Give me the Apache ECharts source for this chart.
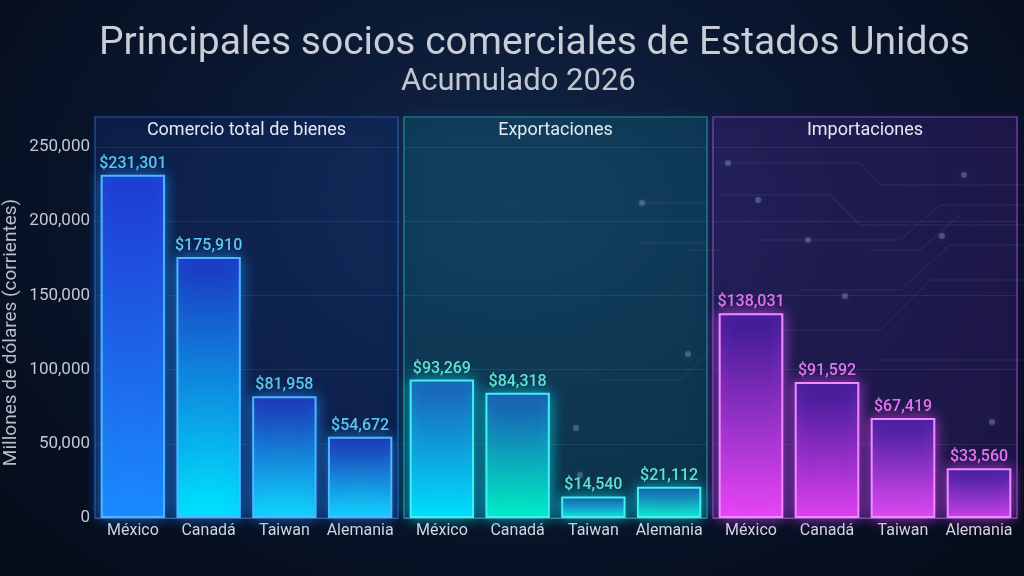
<!DOCTYPE html>
<html>
<head>
<meta charset="utf-8">
<title>Principales socios comerciales de Estados Unidos</title>
<script src="https://cdn.jsdelivr.net/npm/echarts@6/dist/echarts.min.js"></script>
<style>
  html, body { margin: 0; padding: 0; }
  #chart {
    width: 1024px; height: 576px;
    background: radial-gradient(ellipse at 50% 35%, #13274a 0%, #0a1730 45%, #050b17 100%);
  }
</style>
</head>
<body>
<div id="chart"></div>
<script>
// datos
const paises = ['México', 'Canadá', 'Taiwan', 'Alemania']
const comercioTotal = [231301, 175910, 81958, 54672]
const exportaciones = [93269, 84318, 14540, 21112]
const importaciones = [138031, 91592, 67419, 33560]
const ticksY = [0, 50000, 100000, 150000, 200000, 250000]
const paneles = ['Comercio total de bienes', 'Exportaciones', 'Importaciones']

const chart = echarts.init(document.getElementById('chart'))

// posiciones de los tres paneles
const lefts = [95, 404, 713]
const widths = [303, 303, 304]
const panelTop = 117
const zeroY = 518

// estilos por panel
const estilos = [
  {
    bg: 'rgba(18,45,105,0.30)', border: '#2a55a0', glow: 'rgba(40,110,255,0.25)',
    label: '#5cc6f2', barBorder: '#4fb6ff', shadow: 'rgba(30,140,255,0.7)',
    grads: [['#1f3ad0', '#1b8cff'], ['#1b36c0', '#00e6ff'], ['#1c30b4', '#0fdcff'], ['#1c30b0', '#12d8ff']]
  },
  {
    bg: 'rgba(18,88,118,0.30)', border: '#2a8a9a', glow: 'rgba(30,200,220,0.3)',
    label: '#5fe2cf', barBorder: '#45eef0', shadow: 'rgba(0,220,240,0.7)',
    grads: [['#1c5cb4', '#00e0ff'], ['#1b54b0', '#00f0c4'], ['#1a4aa8', '#10e6e0'], ['#1a4eac', '#0ff0d0']]
  },
  {
    bg: 'rgba(60,35,130,0.25)', border: '#8048c0', glow: 'rgba(180,70,255,0.3)',
    label: '#e274f2', barBorder: '#f08cff', shadow: 'rgba(220,70,255,0.7)',
    grads: [['#361a90', '#ea46f6'], ['#381a92', '#de40f0'], ['#3a1c96', '#e04af2'], ['#381c94', '#c442e8']]
  }
]

const fmt = v => '$' + v.toLocaleString('en-US')
const fuente = 'Roboto'

function gradiente(c) {
  return new echarts.graphic.LinearGradient(0, 0, 0, 1, [
    { offset: 0, color: c[0] },
    { offset: 1, color: c[1] }
  ])
}

function serie(i, valores) {
  const e = estilos[i]
  return {
    type: 'bar',
    xAxisIndex: i,
    yAxisIndex: i,
    barCategoryGap: '15%',
    data: valores.map((v, k) => ({
      value: v,
      itemStyle: { color: gradiente(e.grads[k]) }
    })),
    itemStyle: {
      borderColor: e.barBorder,
      borderWidth: 2,
      shadowColor: e.shadow,
      shadowBlur: 14
    },
    label: {
      show: true,
      position: 'top',
      distance: 3,
      color: e.label,
      fontFamily: fuente,
      fontSize: 16,
      fontWeight: 500,
      formatter: p => fmt(p.value)
    }
  }
}

// decoración: paneles y encabezados
const graficos = []
lefts.forEach((x, i) => {
  const e = estilos[i]
  graficos.push({
    type: 'rect', z: -10, silent: true,
    shape: { x: x, y: panelTop, width: widths[i], height: zeroY - panelTop },
    style: { fill: e.bg, stroke: e.border, lineWidth: 1.2, shadowBlur: 12, shadowColor: e.glow }
  })
  graficos.push({
    type: 'text', z: 5, silent: true,
    x: x + widths[i] / 2, y: panelTop + 13,
    style: {
      text: paneles[i], fill: '#e6eaf0', font: '18px ' + fuente,
      align: 'center', verticalAlign: 'middle'
    }
  })
})

// decoración: lineas de circuito
const circuitos = [
  [[720, 163], [860, 163], [880, 185], [1024, 185]],
  [[720, 195], [830, 195], [860, 225], [1024, 225]],
  [[760, 240], [900, 240], [940, 205], [1024, 205]],
  [[800, 290], [900, 290], [950, 245], [1024, 245]],
  [[720, 330], [880, 330], [930, 280], [1024, 280]],
  [[880, 360], [1024, 360]],
  [[870, 250], [920, 250], [960, 215]],
  [[640, 203], [707, 203]],
  [[640, 243], [707, 243]],
  [[690, 250], [720, 250]],
  [[600, 380], [680, 380], [710, 350]]
]
circuitos.forEach(p => {
  graficos.push({
    type: 'polyline', z: -9, silent: true,
    shape: { points: p },
    style: { stroke: 'rgba(140,170,210,0.14)', lineWidth: 1, fill: null }
  })
})
const puntos = [[728, 163], [758, 200], [808, 240], [845, 296], [942, 236], [642, 203], [688, 354], [576, 428], [992, 422], [964, 175], [580, 475]]
puntos.forEach(p => {
  graficos.push({
    type: 'circle', z: -9, silent: true,
    shape: { cx: p[0], cy: p[1], r: 3 },
    style: { fill: 'rgba(170,200,230,0.3)', shadowBlur: 8, shadowColor: 'rgba(170,200,230,0.6)' }
  })
})

chart.setOption({
  backgroundColor: 'transparent',
  animation: false,
  textStyle: { fontFamily: fuente },
  title: [
    {
      text: 'Principales socios comerciales de Estados Unidos',
      left: 94, top: 20,
      textStyle: { color: '#c9cdd6', fontSize: 39, fontWeight: 400, fontFamily: fuente }
    },
    {
      text: 'Acumulado 2026',
      left: 396, top: 62,
      textStyle: { color: '#c2c6ce', fontSize: 31, fontWeight: 400, fontFamily: fuente }
    }
  ],
  graphic: graficos,
  grid: lefts.map((x, i) => ({ left: x, width: widths[i], top: 147, bottom: 576 - zeroY })),
  xAxis: lefts.map((x, i) => ({
    type: 'category',
    gridIndex: i,
    data: paises,
    axisTick: { show: false },
    axisLine: { lineStyle: { color: 'rgba(255,255,255,0.12)' } },
    axisLabel: { color: '#d4d8e0', fontSize: 16, margin: 5, interval: 0 }
  })),
  yAxis: lefts.map((x, i) => ({
    type: 'value',
    gridIndex: i,
    min: ticksY[0],
    max: ticksY[ticksY.length - 1],
    interval: ticksY[1] - ticksY[0],
    name: i === 0 ? 'Millones de dólares (corrientes)' : '',
    nameLocation: 'middle',
    nameGap: 74,
    nameTextStyle: { color: '#b9bdc6', fontSize: 19 },
    splitLine: { lineStyle: { color: 'rgba(255,255,255,0.08)' } },
    axisLabel: {
      show: i === 0,
      color: '#c4c8d0',
      fontSize: 17,
      margin: 5,
      formatter: v => v.toLocaleString('en-US')
    }
  })),
  series: [
    serie(0, comercioTotal),
    serie(1, exportaciones),
    serie(2, importaciones)
  ]
})
</script>
</body>
</html>
